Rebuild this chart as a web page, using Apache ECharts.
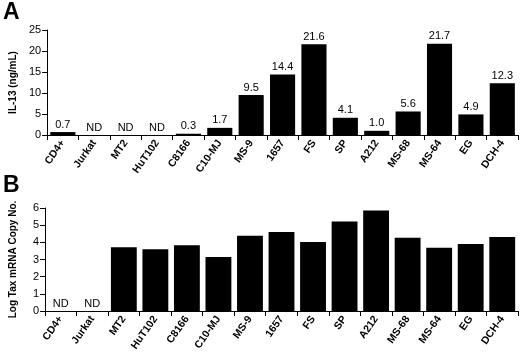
<!DOCTYPE html>
<html><head><meta charset="utf-8">
<script src="https://cdn.jsdelivr.net/npm/echarts@6/dist/echarts.min.js"></script>
<style>html,body{margin:0;padding:0;background:#fff}#c{width:520px;height:356px}</style>
</head><body><div id="c"></div>
<script>
var categories = ['CD4+','Jurkat','MT2','HuT102','C8166','C10-MJ','MS-9','1657','FS','SP','A212','MS-68','MS-64','EG','DCH-4'];
// null = ND (not detected)
var il13 = [0.7, null, null, null, 0.3, 1.7, 9.5, 14.4, 21.6, 4.1, 1.0, 5.6, 21.7, 4.9, 12.3];
var taxLog = [null, null, 3.72, 3.6, 3.83, 3.14, 4.39, 4.6, 4.02, 5.21, 5.85, 4.27, 3.68, 3.91, 4.31];
var ticksA = [0, 5, 10, 15, 20, 25];
var ticksB = [0, 1, 2, 3, 4, 5, 6];

var FONT = '"Liberation Sans", Arial, Helvetica, sans-serif';
function toData(arr){ return arr.map(function(v){ return v === null ? {value:0, nd:true} : {value:v}; }); }

var chart = echarts.init(document.getElementById('c'), null, {renderer:'canvas'});
function xAxis(gi){
  return {type:'category', gridIndex:gi, data:categories,
    axisLine:{lineStyle:{color:'#000', width:1}},
    axisTick:{show:true, alignWithLabel:false, length:5, lineStyle:{color:'#000'}},
    axisLabel:{interval:0, rotate:55, color:'#000', fontFamily:FONT, fontWeight:'bold', fontSize:10.5, margin:6}};
}
function yAxis(gi, name, ticks, gap){
  return {type:'value', gridIndex:gi, min:ticks[0], max:ticks[ticks.length-1], interval:ticks[1]-ticks[0],
    name:name, nameLocation:'middle', nameGap:gap,
    nameTextStyle:{color:'#000', fontFamily:FONT, fontWeight:'bold', fontSize:10},
    axisLine:{show:true, lineStyle:{color:'#000', width:1}},
    axisTick:{show:true, length:5, lineStyle:{color:'#000'}},
    splitLine:{show:false},
    axisLabel:{color:'#000', fontFamily:FONT, fontSize:11, margin:6}};
}
var labelCfg = {show:true, position:'top', distance:2, color:'#000', fontFamily:FONT, fontSize:11,
  formatter:function(p){ return p.data.nd ? 'ND' : p.value.toFixed(1); }};
var labelCfgB = {show:true, position:'top', distance:2, color:'#000', fontFamily:FONT, fontSize:11,
  formatter:function(p){ return p.data.nd ? 'ND' : ''; }};

chart.setOption({
  animation:false,
  grid:[{left:39, right:2, top:30, height:105},{left:39, right:2, top:208, height:103}],
  xAxis:[xAxis(0), xAxis(1)],
  yAxis:[yAxis(0,'IL-13 (ng/mL)',ticksA,27), yAxis(1,'Log Tax mRNA Copy No.',ticksB,27)],
  graphic:[
    {type:'text', left:3, top:1, style:{text:'A', font:'bold 23px '+FONT, fill:'#000'}},
    {type:'text', left:3, top:174, style:{text:'B', font:'bold 23px '+FONT, fill:'#000'}}
  ],
  series:[
    {type:'bar', xAxisIndex:0, yAxisIndex:0, data:toData(il13), barCategoryGap:'20%',
     itemStyle:{color:'#000'}, label:labelCfg},
    {type:'bar', xAxisIndex:1, yAxisIndex:1, data:toData(taxLog), barCategoryGap:'18%',
     itemStyle:{color:'#000'}, label:labelCfgB}
  ]
});
</script></body></html>
